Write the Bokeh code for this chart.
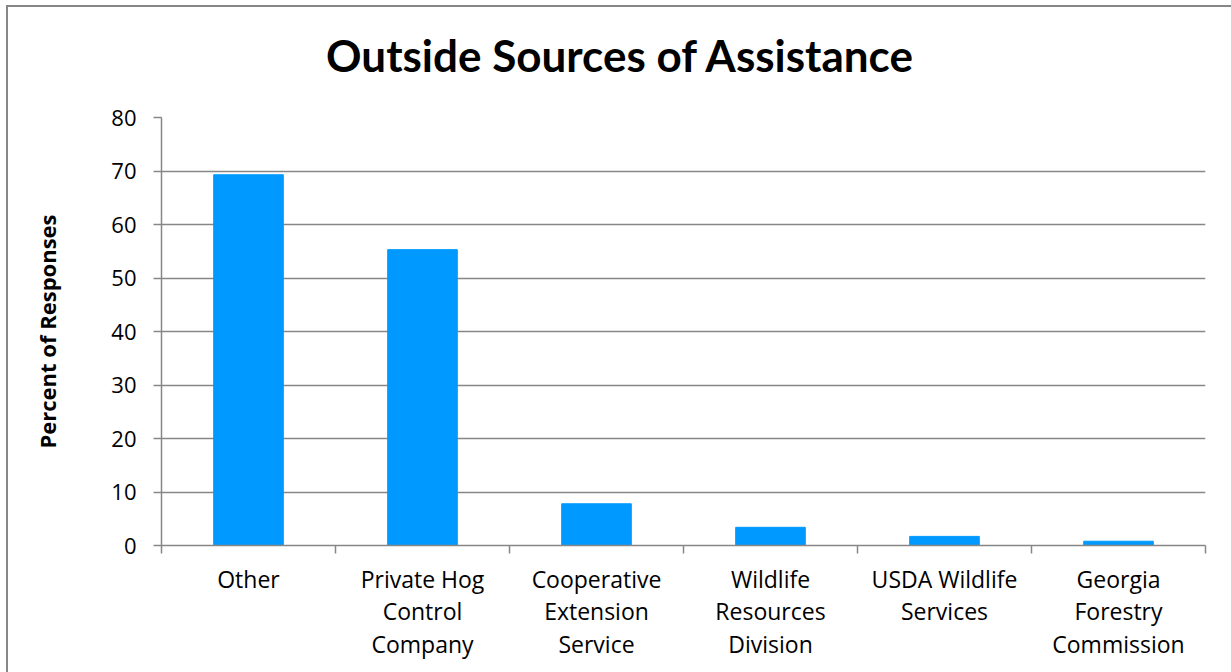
from bokeh.plotting import figure
from bokeh.models import FixedTicker, ColumnDataSource, Div
from bokeh.layouts import column
from bokeh.embed import file_html
from bokeh.resources import INLINE

categories = ["Other", "Private Hog\nControl\nCompany", "Cooperative\nExtension\nService",
              "Wildlife\nResources\nDivision", "USDA Wildlife\nServices", "Georgia\nForestry\nCommission"]
values = [69.3, 55.3, 7.8, 3.4, 1.7, 0.8]
y_ticks = [0, 10, 20, 30, 40, 50, 60, 70, 80]
title_text = "Outside Sources of Assistance"

xs = [i + 0.5 for i in range(len(categories))]
src = ColumnDataSource(dict(x=xs, top=values))

FONT = "Open Sans"
GREY = "#878787"

header = Div(text=title_text, width=1223, height=96, margin=0,
             styles={"font-family": "Lato", "font-size": "44px", "font-weight": "bold",
                     "color": "black", "text-align": "center", "line-height": "96px",
                     "width": "1223px", "display": "block"})

p = figure(width=1223, height=569, output_backend="svg", toolbar_location=None,
           x_range=(0, len(categories)), y_range=(0, 80),
           min_border_left=153, min_border_right=26, min_border_top=14, min_border_bottom=127)
p.margin = 0

p.vbar(x="x", top="top", width=0.4, bottom=0, source=src, color="#0099FF")

p.outline_line_color = None
p.xgrid.grid_line_color = None
p.ygrid.grid_line_color = GREY
p.ygrid.grid_line_width = 1.5

p.yaxis.ticker = FixedTicker(ticks=y_ticks)
p.yaxis.axis_line_color = GREY
p.yaxis.axis_line_width = 1.5
p.yaxis.major_tick_line_color = GREY
p.yaxis.major_tick_line_width = 1.5
p.yaxis.major_tick_out = 8
p.yaxis.major_tick_in = 0
p.yaxis.minor_tick_line_color = None
p.yaxis.major_label_text_font = FONT
p.yaxis.major_label_text_font_size = "22px"
p.yaxis.major_label_text_color = "black"
p.yaxis.major_label_standoff = 17
p.yaxis.axis_label = "Percent of Responses"
p.yaxis.axis_label_text_font = FONT
p.yaxis.axis_label_text_font_size = "22px"
p.yaxis.axis_label_text_font_style = "bold"
p.yaxis.axis_label_text_color = "black"
p.yaxis.axis_label_standoff = 46

p.xaxis.ticker = FixedTicker(ticks=xs, minor_ticks=list(range(len(categories) + 1)))
p.xaxis.major_label_overrides = {x: c for x, c in zip(xs, categories)}
p.xaxis.axis_line_color = GREY
p.xaxis.axis_line_width = 1.5
p.xaxis.major_tick_line_color = None
p.xaxis.minor_tick_line_color = GREY
p.xaxis.minor_tick_line_width = 1.5
p.xaxis.minor_tick_out = 8
p.xaxis.minor_tick_in = 0
p.xaxis.major_label_text_font = FONT
p.xaxis.major_label_text_font_size = "23px"
p.xaxis.major_label_text_color = "black"
p.xaxis.major_label_text_line_height = 1.03
p.xaxis.major_label_standoff = 9

layout = column(header, p, spacing=0, margin=(5, 0, 0, 6),
                styles={"border-left": "2px solid #878787", "border-top": "2px solid #878787"})

open("out.html", "w").write(file_html(layout, INLINE))
